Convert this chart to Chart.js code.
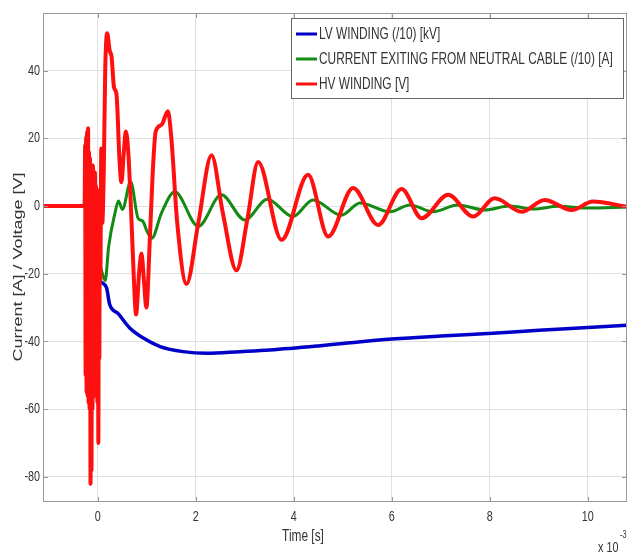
<!DOCTYPE html>
<html>
<head>
<meta charset="utf-8">
<script src="https://cdn.jsdelivr.net/npm/chart.js@4"></script>
<style>
  html, body { margin: 0; background: #fff; }
  #wrap { width: 628px; height: 556px; }
</style>
</head>
<body>
<div id="wrap"><canvas id="chart-canvas"></canvas></div>
<script>
// time in ms (axis is labelled x 10^-3 s)
const lvTime = [0.04, 0.12, 0.18, 0.24, 0.41, 0.65, 0.93, 1.27, 1.74, 2.22, 2.90, 3.51, 4.5, 5.0, 6.0, 7.0, 8.06, 9.0, 10.0, 10.8];
const lvValue = [-22.4, -23, -24.3, -29, -31.7, -36, -39, -41.5, -43, -43.5, -43, -42.5, -41.3, -40.6, -39.3, -38.4, -37.6, -36.7, -35.9, -35.2];

const neutralTime = [-1.12, -0.26, -0.24, -0.22, -0.1, 0.05, 0.15, 0.22, 0.35, 0.42, 0.5, 0.67, 0.82, 0.92, 0.99, 1.10, 1.30, 1.57, 2.05, 2.52, 3.0, 3.46, 3.98, 4.39, 4.97, 5.35, 5.96, 6.37, 6.84, 7.35, 7.9, 8.4, 8.9, 9.4, 10.0, 10.8];
const neutralValue = [0, 0, 21, 0, -15, -18, -22, -12, -2, 1.5, -1, 7.2, -3.6, -4.5, -7, -9.5, -2, 4.2, -6, 3.3, -4.1, 2, -3.1, 1.8, -2.7, 0.9, -1.7, 0.3, -1.7, 0.3, -1.2, 0, -0.9, -0.1, -0.6, -0.3];

// HV winding: switching burst around t = 0, then the damped ring-down
const hvTime = [
  -1.12, -0.27, -0.26, -0.25, -0.24, -0.23, -0.22, -0.21, -0.20, -0.19, -0.18, -0.17, -0.16, -0.15, -0.14,
  -0.13, -0.12, -0.11, -0.10, -0.09, -0.08, -0.07, -0.06, -0.05, -0.04, -0.03, -0.02, -0.01, 0.00, 0.01,
  0.02, 0.03, 0.04, 0.05, 0.07, 0.09, 0.12, 0.15, 0.19, 0.24, 0.28, 0.33, 0.38, 0.44, 0.48, 0.53, 0.57,
  0.62, 0.68, 0.73, 0.78, 0.84, 0.89, 0.94, 0.99, 1.06, 1.12, 1.18, 1.30, 1.43, 1.50, 1.62, 1.81, 2.05,
  2.32, 2.55, 2.83, 3.05, 3.27, 3.75, 4.29, 4.70, 5.21, 5.72, 6.20, 6.61, 7.15, 7.66, 8.10, 8.65, 9.12,
  9.67, 10.1, 10.8
];
const hvValue = [
  0, 0, 18, -50, 20, -55, 22, -56, 23, -58, 16, -60, 14, -82, 12,
  -78, 10, -60, 12, -56, 8, -55, 10, -56, 6, -55, 5, -58, 0, -70,
  -5, -45, 0, -22, 17, -5, 10, 40, 51, 46, 44, 35, 33, 14, 7, 16, 22,
  16, -2, -20, -32, -20, -14, -22, -30, -10, 10, 22, 24, 28, 20, -5, -23, -5,
  15, -2, -19, -4, 13, -10, 9.2, -9, 5.3, -5.6, 5.0, -3.6, 3.3, -3.1, 2.3, -1.7, 1.8,
  -1.2, 1.3, -0.2
];

const seriesLabels = ['LV WINDING (/10) [kV]', 'CURRENT EXITING FROM NEUTRAL CABLE (/10) [A]', 'HV WINDING [V]'];
const seriesColors = ['#0000c8', '#138a13', '#ff1010'];

const xTicks = [0, 2, 4, 6, 8, 10];
const xTickLabels = ['0', '2', '4', '6', '8', '10'];
const yTicks = [-80, -60, -40, -20, 0, 20, 40];
const yTickLabels = ['-80', '-60', '-40', '-20', '0', '20', '40'];

const SQ = 0.72; // lettering is drawn narrow
const FONT = '"Liberation Sans", Arial, sans-serif';

function zip(xs, ys) {
  return xs.map((x, i) => ({ x: x, y: ys[i] }));
}

function drawText(ctx, str, x, y, size, align, rotate) {
  ctx.save();
  ctx.translate(x, y);
  ctx.scale(SQ, 1);
  if (rotate) ctx.rotate(rotate);
  ctx.font = size + 'px ' + FONT;
  ctx.fillStyle = '#333';
  ctx.textAlign = align || 'center';
  ctx.textBaseline = 'middle';
  ctx.fillText(str, 0, 0);
  ctx.restore();
}

// axes box, inward ticks, labels and the legend
const framePlugin = {
  id: 'frame',
  afterDraw(chart) {
    const ctx = chart.ctx;
    const a = chart.chartArea;
    const xs = chart.scales.x, ys = chart.scales.y;

    ctx.save();
    ctx.strokeStyle = '#999';
    ctx.lineWidth = 1;
    ctx.strokeRect(a.left + 0.5, a.top + 0.5, a.right - a.left - 1, a.bottom - a.top - 1);
    ctx.beginPath();
    xTicks.forEach(v => {
      const px = Math.round(xs.getPixelForValue(v)) + 0.5;
      ctx.moveTo(px, a.bottom); ctx.lineTo(px, a.bottom - 5);
      ctx.moveTo(px, a.top); ctx.lineTo(px, a.top + 5);
    });
    yTicks.forEach(v => {
      const py = Math.round(ys.getPixelForValue(v)) + 0.5;
      ctx.moveTo(a.left, py); ctx.lineTo(a.left + 5, py);
      ctx.moveTo(a.right, py); ctx.lineTo(a.right - 5, py);
    });
    ctx.stroke();
    ctx.restore();

    xTicks.forEach((v, i) => drawText(ctx, xTickLabels[i], xs.getPixelForValue(v), 517, 15, 'center'));
    yTicks.forEach((v, i) => drawText(ctx, yTickLabels[i], 40, ys.getPixelForValue(v), 15, 'right'));

    drawText(ctx, 'Time [s]', 303, 536, 16.5, 'center');
    drawText(ctx, 'x 10', 598, 548, 15, 'left');
    drawText(ctx, '-3', 620, 535, 10, 'left');
    drawText(ctx, 'Current [A] / Voltage [V]', 18, 267, 18, 'center', -Math.PI / 2);

    // legend box
    const lx = 291, ly = 18, lw = 332, lh = 80;
    ctx.save();
    ctx.fillStyle = '#fff';
    ctx.fillRect(lx, ly, lw, lh);
    ctx.strokeStyle = '#666';
    ctx.lineWidth = 1;
    ctx.strokeRect(lx + 0.5, ly + 0.5, lw, lh);
    seriesLabels.forEach((label, i) => {
      const ry = 34 + i * 25;
      ctx.strokeStyle = seriesColors[i];
      ctx.lineWidth = 3;
      ctx.beginPath();
      ctx.moveTo(296, ry); ctx.lineTo(317, ry);
      ctx.stroke();
      drawText(ctx, label, 319, ry, 16.5, 'left');
    });
    ctx.restore();
  }
};

new Chart(document.getElementById('chart-canvas'), {
  type: 'scatter',
  data: {
    datasets: [
      { label: seriesLabels[0], data: zip(lvTime, lvValue), borderColor: seriesColors[0], borderWidth: 3.5, order: 2 },
      { label: seriesLabels[1], data: zip(neutralTime, neutralValue), borderColor: seriesColors[1], borderWidth: 3, order: 1 },
      { label: seriesLabels[2], data: zip(hvTime, hvValue), borderColor: seriesColors[2], borderWidth: 4, order: 0 }
    ].map(d => Object.assign(d, { showLine: true, pointRadius: 0, fill: false, cubicInterpolationMode: 'monotone' }))
  },
  options: {
    responsive: true,
    maintainAspectRatio: false,
    animation: false,
    layout: { padding: { top: 13, right: 1, left: 0, bottom: 0 } },
    plugins: { legend: { display: false }, tooltip: { enabled: false } },
    scales: {
      x: {
        type: 'linear', min: -1.12, max: 10.8,
        afterBuildTicks: s => { s.ticks = xTicks.map(v => ({ value: v })); },
        afterFit: s => { s.height = 54; },
        ticks: { display: false },
        grid: { color: '#e0e0e0', drawTicks: false },
        border: { display: false }
      },
      y: {
        type: 'linear', min: -87.4, max: 57,
        afterBuildTicks: s => { s.ticks = yTicks.map(v => ({ value: v })); },
        afterFit: s => { s.width = 43; },
        ticks: { display: false },
        grid: { color: '#e0e0e0', drawTicks: false },
        border: { display: false }
      }
    }
  },
  plugins: [framePlugin]
});
</script>
</body>
</html>
